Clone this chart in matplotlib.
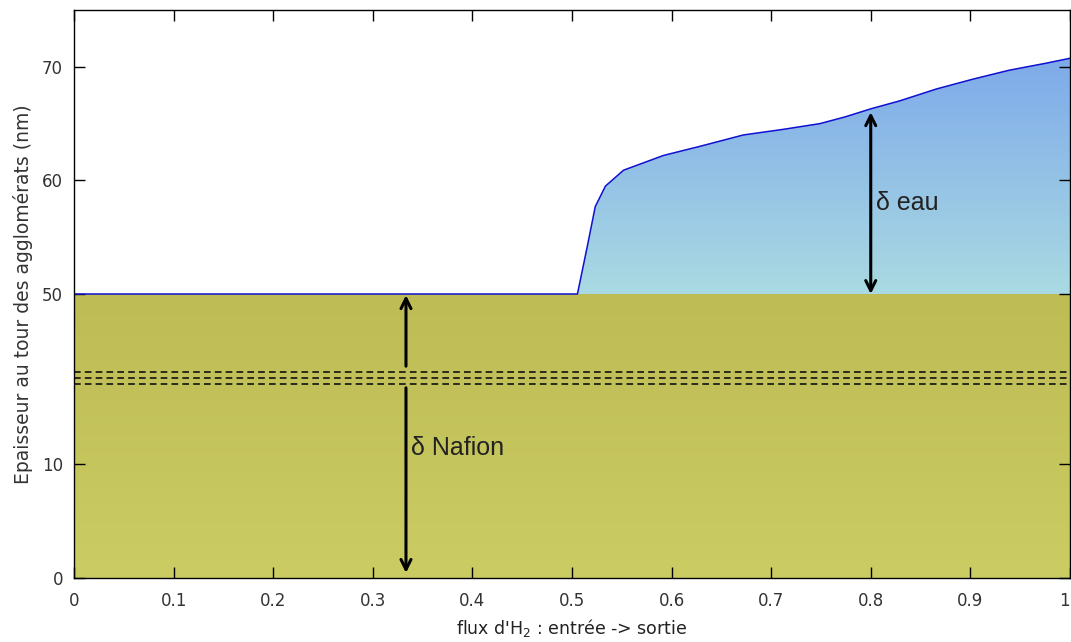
import numpy as np
import matplotlib.pyplot as plt

# flux d'H2 (0 = entree, 1 = sortie) and thickness around agglomerates (nm)
flux = [0.0, 0.5055, 0.5154, 0.5234, 0.5336, 0.5518, 0.592, 0.6285, 0.672,
        0.7125, 0.749, 0.7746, 0.800, 0.829, 0.866, 0.902, 0.939, 0.975, 1.0]
epaisseur = [50.0, 50.0, 54.2, 57.7, 59.5, 60.9, 62.2, 63.0, 64.0,
             64.5, 65.0, 65.6, 66.3, 67.0, 68.05, 68.9, 69.7, 70.3, 70.75]
nafion = 50.0
yticks = [0, 10, 50, 60, 70]
xticks = [0, 0.1, 0.2, 0.3, 0.4, 0.5, 0.6, 0.7, 0.8, 0.9, 1]
xticklabels = ['0', '0.1', '0.2', '0.3', '0.4', '0.5', '0.6', '0.7', '0.8', '0.9', '1']
break_marks = [20, 22, 24]

# broken y axis: 0..16 linear, 16..50 squeezed, 50.. linear again
real_pts = [0, 16, 50, 100]
plot_pts = [0, 16, 25, 75]


def fwd(v):
    return np.interp(v, real_pts, plot_pts)


def inv(p):
    return np.interp(p, plot_pts, real_pts)


fig = plt.figure(figsize=(10.71, 6.42), dpi=100)
ax = fig.add_axes([0.0691, 0.0997, 0.9299, 0.8847])
ax.set_yscale('function', functions=(fwd, inv))

# fills
olive = ax.fill_between([0, 1], 0, nafion, color='none', lw=0)
x = np.array(flux)
y = np.array(epaisseur)
water = ax.fill_between(x, nafion, y, color='none', lw=0)

# gradients drawn in axes coords, clipped by the fills
frac = np.linspace(0, 1, 400)
split = 25 / 50.0
olive_bot = np.array([203, 204, 100]) / 255
olive_top = np.array([190, 188, 84]) / 255
blue_bot = np.array([170, 218, 226]) / 255
blue_top = np.array([122, 166, 234]) / 255
t1 = np.clip(frac / split, 0, 1)[:, None]
t2 = np.clip((frac - split) / (0.95 - split), 0, 1)[:, None]
grad_o = (olive_bot * (1 - t1) + olive_top * t1)[:, None, :]
grad_b = (blue_bot * (1 - t2) + blue_top * t2)[:, None, :]

im1 = ax.imshow(grad_o, extent=(0, 1, 0, 1), transform=ax.transAxes,
                origin='lower', aspect='auto', interpolation='bilinear', zorder=1)
im1.set_clip_path(olive.get_paths()[0], transform=olive.get_transform())
im2 = ax.imshow(grad_b, extent=(0, 1, 0, 1), transform=ax.transAxes,
                origin='lower', aspect='auto', interpolation='bilinear', zorder=1)
im2.set_clip_path(water.get_paths()[0], transform=water.get_transform())

ax.plot(x, y, color='#1010d0', lw=1.1, zorder=3)

# break marks
for b in break_marks:
    ax.axhline(b, color='#111111', lw=1.2, ls=(0, (4, 2.5)), zorder=4)

# arrows
arr = dict(arrowstyle='->', color='k', lw=2.2, mutation_scale=18, shrinkA=0, shrinkB=0)
ax.annotate('', xy=(1 / 3, 49.6), xytext=(1 / 3, 26.0), arrowprops=arr, zorder=5)
ax.annotate('', xy=(1 / 3, 0.45), xytext=(1 / 3, 18.8), arrowprops=arr, zorder=5)
arr2 = dict(arrowstyle='<->', color='k', lw=2.2, mutation_scale=18, shrinkA=0, shrinkB=0)
ax.annotate('', xy=(0.8, 66.0), xytext=(0.8, 50.0), arrowprops=arr2, zorder=5)

ax.text(0.8055, 58.0, 'δ eau', fontsize=18, color='#222222', va='center',
        family='Liberation Sans', zorder=6)
ax.text(0.3385, 11.4, 'δ Nafion', fontsize=18, color='#222222', va='center',
        family='Liberation Sans', zorder=6)

ax.set_xlim(0, 1)
ax.set_ylim(0, 75)
ax.set_xticks(xticks)
ax.set_xticklabels(xticklabels)
ax.get_xticklabels()[-1].set_ha('right')
ax.set_yticks(yticks)
ax.set_yticklabels([str(t) for t in yticks])
ax.minorticks_off()
ax.tick_params(direction='in', length=8, width=1, top=True, right=True,
               labelsize=12, labelcolor='#333333')
ax.tick_params(axis='x', pad=10)
ax.tick_params(axis='y', pad=8)
for s in ax.spines.values():
    s.set_linewidth(1)
    s.set_zorder(7)

ax.set_xlabel("flux d'H$_2$ : entrée -> sortie", fontsize=12.5, color='#222222', labelpad=5)
ax.set_ylabel('Epaisseur au tour des agglomérats (nm)', fontsize=13.5,
              color='#333333', labelpad=6)

fig.savefig('out.png', dpi=100)
